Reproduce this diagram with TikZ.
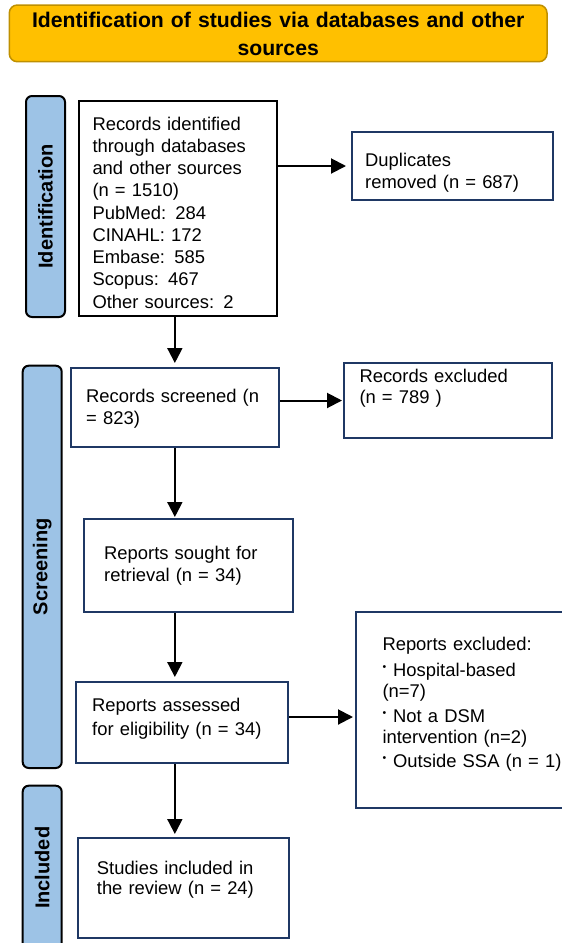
\documentclass[tikz,border=0pt]{standalone}
\usepackage{fontspec}
\setmainfont{Liberation Sans}
\usetikzlibrary{arrows.meta,fit}
\definecolor{titlefill}{HTML}{FFC000}
\definecolor{titleedge}{HTML}{BF9000}
\definecolor{phasefill}{HTML}{9DC3E6}
\definecolor{navy}{HTML}{1F3864}
\newcommand\smallbullet{\raisebox{5.5pt}{\fontsize{10.5}{10.5}\selectfont\textbullet}}

\begin{document}
\begin{tikzpicture}[x=1pt,y=-1pt,
  box/.style={draw=navy, line width=2pt, inner sep=0pt, fill=white},
  phasebox/.style={draw=black, line width=2pt, fill=phasefill, rounded corners=6pt, inner sep=0pt},
  phaselabel/.style={rotate=90, inner sep=0pt, font=\fontsize{20}{24}\bfseries},
  txt/.style={anchor=base west, inner sep=0pt, text width=230pt, align=left, font=\fontsize{18.4}{22}\selectfont},
  arr/.style={line width=2pt, -{Triangle[length=15pt,width=15pt]}},
]
\useasboundingbox (0,0) rectangle (562,943);

% title banner
\node[fit={(9.3,5) (547,61.7)}, draw=titleedge, fill=titlefill, line width=1.5pt,
      rounded corners=8pt, inner sep=0pt] (titlebox) {};
\node[anchor=base, inner sep=0pt, text width=530pt, align=center,
      font=\fontsize{21.2}{27.7}\bfseries] (titletext) at (278.2,27.3)
  {Identification of studies via databases and other\\sources};

% phase bars
\node[phasebox, fit={(26,96) (65,317)}] (idside) {};
\node[phasebox, fit={(22.7,365.7) (61.7,768)}] (scrside) {};
\node[phasebox, fit={(22.7,785.7) (61.7,950)}] (incside) {};
\node[phaselabel] (idlab) at (idside) {Identification};
\node[phaselabel] (scrlab) at (scrside) {Screening};
\node[phaselabel] (inclab) at (incside) {Included};

% boxes
\node[box, draw=black, fit={(79,101) (277,316)}] (rid) {};
\node[box, fit={(352,132) (553,200)}] (dup) {};
\node[box, fit={(70.7,368) (279,447)}] (scr) {};
\node[box, fit={(344,363) (552,438)}] (rex) {};
\node[box, fit={(84,519) (293,612)}] (sought) {};
\node[box, fit={(75.7,682) (288,763)}] (ass) {};
\node[box, fit={(356,612) (566,808)}] (rexc) {};
\node[box, fit={(78,838) (289,938)}] (inc) {};

% box texts
\node[txt, font=\fontsize{18.4}{22.25}\selectfont] (ridtext) at (92.3,130)
  {Records identified\\through databases\\and other sources\\(n = 1510)\\PubMed: 284\\CINAHL: 172\\Embase: 585\\Scopus: 467\\Other sources: 2};
\node[txt, font=\fontsize{18.4}{21.6}\selectfont] (duptext) at (365,166.7)
  {Duplicates\\removed (n = 687)};
\node[txt, font=\fontsize{18.4}{21.7}\selectfont] (scrtext) at (86,402.3)
  {Records screened (n\\= 823)};
\node[txt, font=\fontsize{18.4}{20.5}\selectfont] (rextext) at (359.3,382.7)
  {Records excluded\\(n = 789 )};
\node[txt, font=\fontsize{18.4}{22}\selectfont] (soughttext) at (104,559)
  {Reports sought for\\retrieval (n = 34)};
\node[txt, font=\fontsize{18.4}{23.3}\selectfont] (asstext) at (92,711.7)
  {Reports assessed\\for eligibility (n = 34)};
\node[txt, font=\fontsize{18.4}{21.5}\selectfont] (rexctext) at (382.3,650)
  {Reports excluded:\\[4.5pt]
   \smallbullet\hspace{7pt}Hospital-based\\
   (n=7)\\[3pt]
   \smallbullet\hspace{7pt}Not a DSM\\
   intervention (n=2)\\[2pt]
   \smallbullet\hspace{7pt}Outside SSA (n = 1)};
\node[txt, font=\fontsize{18.4}{20}\selectfont] (inctext) at (96.7,874)
  {Studies included in\\the review (n = 24)};

% connectors
\draw[arr, shorten >=5pt] (rid.east |- dup.west) -- (dup.west);
\draw[arr, shorten >=4pt] (rid.south -| scr.north) -- (scr.north);
\draw[arr, shorten >=1pt] (scr.east |- rex.west) -- (rex.west);
\draw[arr, shorten >=1pt] (scr.south) -- (scr.south |- sought.north);
\draw[arr, shorten >=4pt] (scr.south |- sought.south) -- (scr.south |- ass.north);
\draw[arr, shorten >=2pt] ([yshift=5.5pt]ass.east) -- ([yshift=5.5pt]ass.east -| rexc.west);
\draw[arr, shorten >=3pt] (scr.south |- ass.south) -- (scr.south |- inc.north);
\end{tikzpicture}
\end{document}
